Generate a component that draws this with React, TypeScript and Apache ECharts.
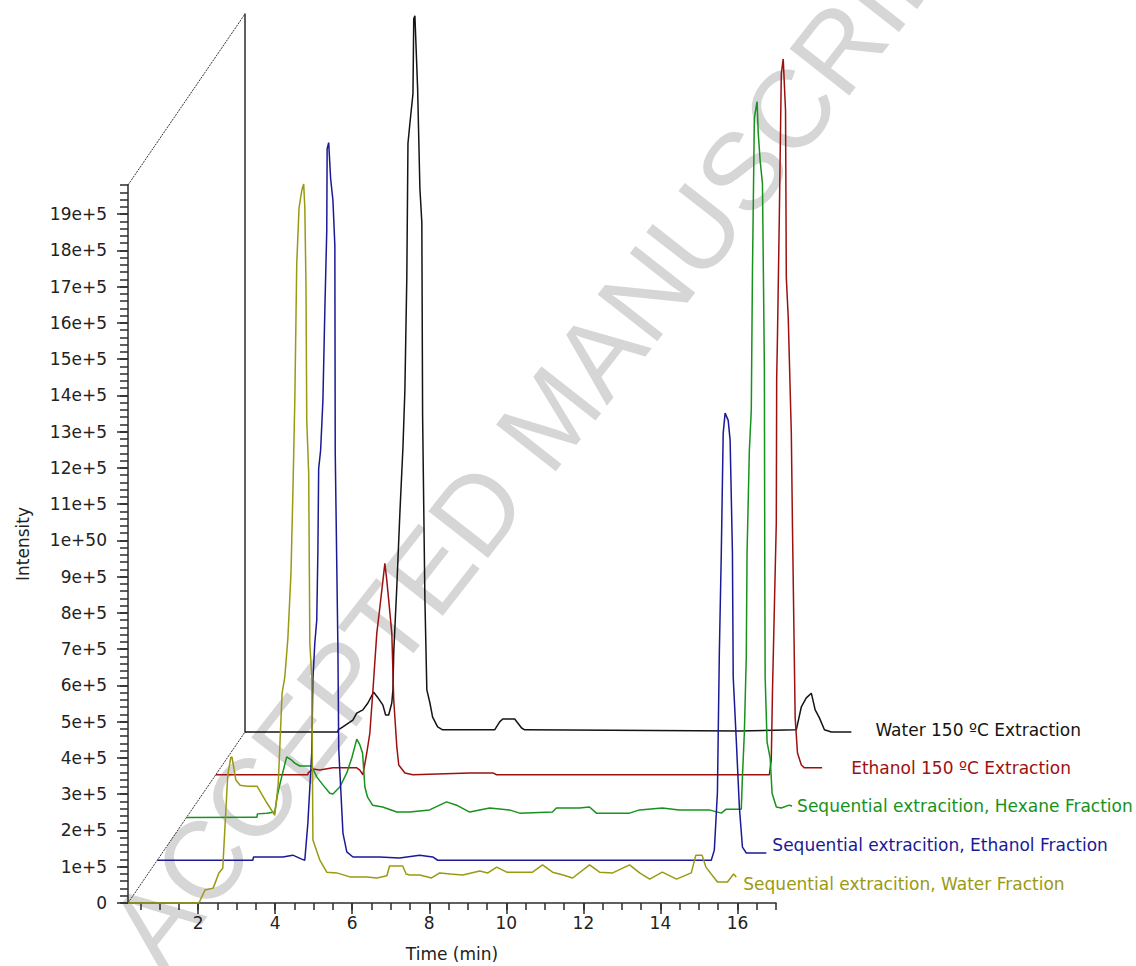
import React, { useEffect, useRef } from 'react';
import * as echarts from 'echarts';

// Chromatogram traces: [retention time (min), intensity (x 1e5 counts)]
const waterFraction: [number, number][] = [
  [0.18, 0], [2.02, 0], [2.18, 0.36], [2.39, 0.41], [2.54, 0.83], [2.64, 0.96], [2.72, 2.56], [2.77, 3.53],
  [2.85, 4.02], [2.88, 4.02], [2.98, 3.39], [3.09, 3.25], [3.27, 3.22], [3.53, 3.22], [3.79, 2.75], [3.99, 2.42],
  [4.08, 3.3], [4.18, 5.79], [4.25, 6.23], [4.33, 7.3], [4.41, 9.09], [4.46, 11.3], [4.51, 13.86], [4.56, 17.63],
  [4.62, 19.17], [4.69, 19.64], [4.74, 19.83], [4.77, 19.17], [4.8, 17.02], [4.82, 13.31], [4.87, 11.85], [4.9, 7.16],
  [4.95, 6.23], [4.98, 1.74], [5.16, 1.18], [5.34, 0.85], [5.6, 0.83], [5.94, 0.72], [6.38, 0.72], [6.64, 0.69],
  [6.9, 0.75], [6.97, 1.02], [7.31, 1.02], [7.4, 0.8], [7.49, 0.77], [7.75, 0.77], [8.06, 0.69], [8.27, 0.83],
  [8.55, 0.8], [8.87, 0.77], [9.31, 0.88], [9.52, 0.83], [9.75, 0.99], [10.01, 0.85], [10.34, 0.85], [10.68, 0.85],
  [10.94, 1.05], [11.2, 0.85], [11.45, 0.78], [11.72, 0.69], [12.16, 1.05], [12.42, 0.85], [12.76, 0.83], [13.2, 1.05],
  [13.46, 0.83], [13.72, 0.66], [14.05, 0.85], [14.42, 0.66], [14.8, 0.83], [14.92, 1.32], [15.08, 1.32], [15.18, 0.99],
  [15.48, 0.58], [15.74, 0.58], [15.9, 0.8], [15.97, 0.72],
];

const ethanolFraction: [number, number][] = [
  [0.18, 0], [2.66, 0], [2.68, 0.09], [3.44, 0.09], [3.7, 0.14], [3.93, 0.03], [4.01, 0], [4.09, 1.03],
  [4.19, 2.96], [4.22, 4.97], [4.27, 5.99], [4.32, 6.62], [4.35, 8.55], [4.37, 10.8], [4.42, 11.3], [4.48, 12.68],
  [4.53, 15.16], [4.58, 17.36], [4.59, 19.62], [4.63, 19.79], [4.68, 18.8], [4.74, 18.2], [4.79, 16.95], [4.8, 11.25],
  [4.87, 5.79], [4.89, 3.09], [5.0, 0.75], [5.1, 0.23], [5.26, 0.09], [5.95, 0.09], [6.47, 0.06], [6.99, 0.14],
  [7.33, 0.09], [7.46, 0], [14.56, 0], [14.64, 0.28], [14.72, 1.86], [14.77, 5.72], [14.82, 8.42], [14.87, 11.78],
  [14.92, 12.33], [15.0, 12.13], [15.05, 11.58], [15.11, 8.47], [15.13, 5.05], [15.21, 3.31], [15.29, 1.46], [15.37, 0.36],
  [15.47, 0.2], [15.99, 0.2],
];

const hexaneFraction: [number, number][] = [
  [0.18, 0], [2.01, 0.01], [2.02, 0.1], [2.27, 0.12], [2.47, 0.15], [2.55, 0.67], [2.65, 1.12], [2.78, 1.67],
  [2.91, 1.58], [2.99, 1.5], [3.12, 1.42], [3.43, 1.42], [3.56, 1.12], [3.72, 0.9], [3.9, 0.67], [3.98, 0.65],
  [4.16, 0.84], [4.34, 1.23], [4.47, 1.64], [4.6, 2.16], [4.68, 2.0], [4.75, 1.78], [4.81, 0.84], [4.88, 0.56],
  [5.01, 0.34], [5.27, 0.29], [5.64, 0.15], [5.97, 0.15], [6.49, 0.21], [6.93, 0.43], [7.19, 0.34], [7.53, 0.15],
  [8.05, 0.26], [8.56, 0.21], [8.83, 0.12], [9.68, 0.15], [9.78, 0.26], [10.38, 0.26], [10.64, 0.29], [10.82, 0.12],
  [11.68, 0.12], [11.94, 0.21], [12.53, 0.26], [12.97, 0.21], [13.75, 0.21], [14.06, 0.12], [14.19, 0.23], [14.58, 0.23],
  [14.61, 1.12], [14.66, 2.33], [14.71, 4.42], [14.73, 7.29], [14.79, 10.12], [14.84, 11.23], [14.87, 15.0], [14.92, 19.3],
  [14.99, 19.74], [15.02, 18.88], [15.07, 18.11], [15.13, 17.48], [15.18, 12.38], [15.19, 7.01], [15.2, 3.87], [15.25, 2.08],
  [15.33, 1.64], [15.38, 0.67], [15.49, 0.29], [15.62, 0.26], [15.82, 0.34], [15.9, 0.32],
];

const ethanol150: [number, number][] = [
  [0.18, 0], [2.57, 0], [2.58, 0.05], [2.7, 0.16], [2.88, 0.13], [3.22, 0.19], [3.84, 0.19], [3.92, 0.13],
  [4.0, 0], [4.1, 0.6], [4.18, 1.15], [4.26, 2.33], [4.36, 3.9], [4.44, 4.62], [4.52, 5.36], [4.57, 5.83],
  [4.62, 5.36], [4.67, 4.81], [4.75, 3.9], [4.8, 2.06], [4.88, 0.77], [4.93, 0.27], [5.09, 0.05], [5.3, 0],
  [6.77, 0.05], [7.37, 0.05], [7.47, 0], [14.55, 0], [14.6, 0.41], [14.63, 2.25], [14.68, 4.62], [14.73, 6.94],
  [14.74, 10.9], [14.76, 12.06], [14.81, 15.5], [14.86, 19.33], [14.91, 19.74], [14.97, 18.31], [14.99, 13.71], [15.04, 12.61],
  [15.12, 9.41], [15.15, 6.82], [15.22, 1.56], [15.28, 0.6], [15.38, 0.27], [15.46, 0.19], [15.92, 0.19],
];

const water150: [number, number][] = [
  [0.18, 0], [2.59, 0], [2.6, 0.06], [2.72, 0.14], [2.98, 0.33], [3.08, 0.52], [3.24, 0.61], [3.37, 0.8],
  [3.52, 1.1], [3.62, 0.96], [3.76, 0.74], [3.83, 0.47], [3.91, 0.47], [3.99, 0.8], [4.02, 1.16], [4.04, 2.18],
  [4.12, 3.99], [4.2, 6.03], [4.28, 7.85], [4.33, 9.42], [4.38, 12.53], [4.41, 16.23], [4.46, 16.78], [4.54, 17.6],
  [4.56, 19.67], [4.59, 19.75], [4.66, 17.77], [4.72, 14.99], [4.77, 14.05], [4.79, 8.73], [4.85, 3.64], [4.9, 1.16],
  [4.98, 0.8], [5.05, 0.41], [5.18, 0.14], [5.31, 0.06], [6.66, 0.06], [6.79, 0.28], [6.87, 0.36], [7.18, 0.36],
  [7.36, 0.11], [7.44, 0.06], [13.01, 0.03], [14.49, 0.06], [14.62, 0.69], [14.75, 0.94], [14.88, 1.07], [14.98, 0.61],
  [15.09, 0.39], [15.22, 0.06], [15.4, 0], [15.92, 0],
];

// Front-to-back order of the stacked traces
const traceNames = [
  'Sequential extracition, Water Fraction',
  'Sequential extracition, Ethanol Fraction',
  'Sequential extracition, Hexane Fraction',
  'Ethanol 150 ºC Extraction',
  'Water 150 ºC Extraction',
];
const traceData = [waterFraction, ethanolFraction, hexaneFraction, ethanol150, water150];
const traceColors = ['#9a9a12', '#1a1a96', '#17921c', '#9e1010', '#141414'];
const labelGaps = [7, 6, 5, 29, 24];
const labelLift = [7, -8, 0, 0, -2];

const xTickValues = [2, 4, 6, 8, 10, 12, 14, 16];
const xTickLabels = ['2', '4', '6', '8', '10', '12', '14', '16'];
const yTickLabels = [
  '0', '1e+5', '2e+5', '3e+5', '4e+5', '5e+5', '6e+5', '7e+5', '8e+5', '9e+5',
  '1e+50', '11e+5', '12e+5', '13e+5', '14e+5', '15e+5', '16e+5', '17e+5', '18e+5', '19e+5',
];

// Plot geometry (px) and axis extents
const FRONT_LEFT = 128;
const FRONT_TOP = 185;
const PLOT_W = 648;
const PLOT_H = 718;
const DEPTH_DX = 29.25;
const DEPTH_DY = 42.75;
const X_MIN = 0.18;
const X_MAX = 17;
const Y_MAX = 19.8;

const FONT = 'DejaVu Sans';
const AXIS_COLOR = '#2b2b2b';

export default function App() {
  const ref = useRef<HTMLDivElement>(null);

  useEffect(() => {
    document.body.style.margin = '0';
    if (!ref.current) return;
    const chart = echarts.init(ref.current, null, { renderer: 'svg' });

    const depth = traceNames.length - 1;
    const minorX: number[] = [];
    for (let v = 0.5; v <= X_MAX + 1e-9; v += 0.5) minorX.push(+v.toFixed(2));
    const minorY: number[] = [];
    for (let i = 0; i <= Math.round(Y_MAX / 0.2); i++) minorY.push(+(i * 0.2).toFixed(2));
    const majorY = yTickLabels.map((_, i) => i);

    const grids = traceNames.map((_, k) => ({
      left: FRONT_LEFT + DEPTH_DX * k,
      top: FRONT_TOP - DEPTH_DY * k,
      width: PLOT_W,
      height: PLOT_H,
      containLabel: false,
      outerBoundsMode: 'none',
    }));

    const hiddenX = (k: number) => ({
      type: 'value', gridIndex: k, min: X_MIN, max: X_MAX, show: false, splitLine: { show: false },
    });
    const hiddenY = (k: number) => ({
      type: 'value', gridIndex: k, min: 0, max: Y_MAX, show: false, splitLine: { show: false },
    });

    const xAxes: any[] = [
      {
        type: 'value', gridIndex: 0, position: 'bottom', min: X_MIN, max: X_MAX,
        axisLine: { show: true, onZero: false, lineStyle: { color: AXIS_COLOR, width: 1.5 } },
        axisTick: { show: true, length: 7, customValues: minorX, lineStyle: { color: AXIS_COLOR, width: 1.5 } },
        axisLabel: { show: false },
        splitLine: { show: false },
        name: 'Time (min)', nameLocation: 'middle', nameGap: 42,
        nameTextStyle: { fontFamily: FONT, fontSize: 17, color: '#222' },
      },
      {
        type: 'value', gridIndex: 0, position: 'bottom', min: X_MIN, max: X_MAX,
        axisLine: { show: false, onZero: false },
        axisTick: { show: true, length: 11, customValues: xTickValues, lineStyle: { color: AXIS_COLOR, width: 1.5 } },
        axisLabel: {
          show: true, customValues: xTickValues, margin: 11, fontFamily: FONT, fontSize: 17, color: '#222',
          formatter: (v: number) => xTickLabels[xTickValues.indexOf(Math.round(v))] ?? '',
        },
        splitLine: { show: false },
      },
    ];
    const yAxes: any[] = [
      {
        type: 'value', gridIndex: 0, position: 'left', min: 0, max: Y_MAX,
        axisLine: { show: true, onZero: false, lineStyle: { color: AXIS_COLOR, width: 1.5 } },
        axisTick: { show: true, length: 8, customValues: minorY, lineStyle: { color: AXIS_COLOR, width: 1.5 } },
        axisLabel: { show: false },
        splitLine: { show: false },
        name: 'Intensity', nameLocation: 'middle', nameGap: 97, nameRotate: 90,
        nameTextStyle: { fontFamily: FONT, fontSize: 17, color: '#222' },
      },
      {
        type: 'value', gridIndex: 0, position: 'left', min: 0, max: Y_MAX,
        axisLine: { show: false, onZero: false },
        axisTick: { show: true, length: 11, customValues: majorY, lineStyle: { color: AXIS_COLOR, width: 1.5 } },
        axisLabel: {
          show: true, customValues: majorY, margin: 21, fontFamily: FONT, fontSize: 17, color: '#222',
          formatter: (v: number) => yTickLabels[Math.round(v)] ?? '',
        },
        splitLine: { show: false },
      },
    ];
    for (let k = 1; k <= depth; k++) {
      xAxes.push(hiddenX(k));
      if (k === depth) {
        yAxes.push({
          type: 'value', gridIndex: k, position: 'left', min: 0, max: Y_MAX,
          axisLine: { show: true, onZero: false, lineStyle: { color: AXIS_COLOR, width: 1.5 } },
          axisTick: { show: false }, axisLabel: { show: false }, splitLine: { show: false },
        });
      } else {
        yAxes.push(hiddenY(k));
      }
    }

    const axisIndexFor = (k: number) => (k === 0 ? 0 : k + 1);

    const series = traceNames
      .map((name, k) => ({
        type: 'line',
        name,
        data: traceData[k],
        xAxisIndex: axisIndexFor(k),
        yAxisIndex: axisIndexFor(k),
        showSymbol: false,
        symbol: 'none',
        clip: false,
        silent: true,
        z: 10 + (depth - k),
        lineStyle: { color: traceColors[k], width: 1.5 },
        endLabel: {
          show: true,
          formatter: name,
          distance: labelGaps[k],
          offset: [0, labelLift[k]],
          color: traceColors[k],
          fontFamily: FONT,
          fontSize: 17,
        },
      }))
      .reverse();

    const bottomY = FRONT_TOP + PLOT_H;
    const backX = FRONT_LEFT + DEPTH_DX * depth;
    const frameStyle = { stroke: '#333', lineWidth: 1, lineDash: [2, 1] };

    chart.setOption({
      animation: false,
      backgroundColor: '#ffffff',
      grid: grids,
      xAxis: xAxes,
      yAxis: yAxes,
      series,
      graphic: [
        {
          type: 'text',
          x: 550,
          y: 416,
          rotation: (52 * Math.PI) / 180,
          z: -10,
          silent: true,
          style: {
            text: 'ACCEPTED MANUSCRIPT',
            fontFamily: 'Liberation Sans',
            fontSize: 110,
            fill: '#d6d6d6',
            align: 'center',
            verticalAlign: 'middle',
            textAlign: 'center',
            textVerticalAlign: 'middle',
          },
        },
        {
          type: 'line',
          silent: true,
          shape: { x1: FRONT_LEFT, y1: bottomY, x2: backX, y2: bottomY - DEPTH_DY * depth },
          style: frameStyle,
        },
        {
          type: 'line',
          silent: true,
          shape: { x1: FRONT_LEFT, y1: FRONT_TOP, x2: backX, y2: FRONT_TOP - DEPTH_DY * depth },
          style: frameStyle,
        },
      ],
    });

    return () => chart.dispose();
  }, []);

  return <div ref={ref} style={{ width: 1136, height: 966 }} />;
}
